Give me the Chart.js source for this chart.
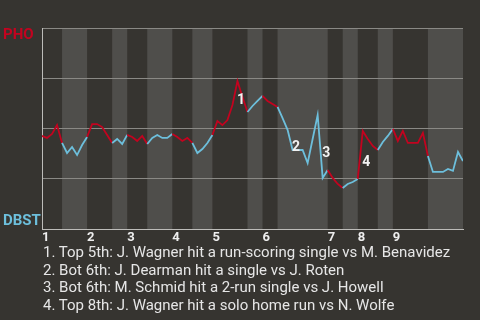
<!DOCTYPE html>
<html>
<head>
<meta charset="utf-8">
<script src="https://cdn.jsdelivr.net/npm/chart.js@4/dist/chart.umd.min.js"></script>
<style>
  html, body { margin: 0; padding: 0; background: #363430; width: 480px; height: 320px; overflow: hidden; }
  #wrap { position: absolute; left: 0; top: 0; width: 480px; height: 245px; }
  #notes { position: absolute; left: 43px; top: 244px; font: 15px Roboto, sans-serif; line-height: 17.7px; color: #e6e6e6; white-space: nowrap; }
</style>
</head>
<body>
<div id="wrap"><canvas id="c"></canvas></div>
<div id="notes"></div>
<script>
// Win probability for PHO after each plate appearance (index 0 = first pitch)
const winProb = [
  0.463, 0.453, 0.473, 0.517, 0.428, 0.378, 0.408, 0.368, 0.418, 0.458,
  0.522, 0.522, 0.507, 0.468, 0.428, 0.448, 0.423, 0.468, 0.458, 0.438,
  0.463, 0.423, 0.453, 0.468, 0.453, 0.453, 0.473, 0.458, 0.438, 0.453,
  0.428, 0.378, 0.398, 0.428, 0.468, 0.537, 0.517, 0.542, 0.617, 0.736,
  0.657, 0.582, 0.612, 0.637, 0.662, 0.637, 0.622, 0.607, 0.552, 0.493,
  0.393, 0.393, 0.393, 0.328, 0.448, 0.567, 0.254, 0.294, 0.254, 0.224,
  0.204, 0.224, 0.234, 0.249, 0.488, 0.448, 0.413, 0.393, 0.433, 0.463,
  0.498, 0.438, 0.488, 0.428, 0.428, 0.428, 0.478, 0.363, 0.284, 0.284,
  0.284, 0.299, 0.289, 0.383, 0.338
];

// Plate-appearance index where each half inning begins / ends (top 1st ... bottom 9th)
const halfBounds = [0, 4, 9, 14, 17, 21, 26, 30, 34, 41, 44, 47, 57, 60, 63, 67, 70, 77, 84];

// Inning numbers shown under the axis
const inningLabels = ['1', '2', '3', '4', '5', '6', '7', '8', '9'];

// Key plays: plate appearance that ends each play, with its description
const eventPlay = [39, 50, 56, 64];
const eventNotes = [
  'Top 5th: J. Wagner hit a run-scoring single vs M. Benavidez',
  'Bot 6th: J. Dearman hit a single vs J. Roten',
  'Bot 6th: M. Schmid hit a 2-run single vs J. Howell',
  'Top 8th: J. Wagner hit a solo home run vs N. Wolfe'
];

const teams = { away: 'PHO', home: 'DBST' };

const RED = '#c3031f';
const BLUE = '#6dbfdc';
const BAND = '#4f4e4b';
const GRID = '#8a8985';
const AXIS = '#bdbcb9';

const inningStarts = halfBounds.filter((_, k) => k % 2 === 0 && k < halfBounds.length - 1);

function halfOf(j) {
  for (let k = 0; k < halfBounds.length - 1; k++) {
    if (j > halfBounds[k] && j <= halfBounds[k + 1]) return k;
  }
  return 0;
}

const bandsPlugin = {
  id: 'bands',
  beforeDraw(chart) {
    const { ctx, chartArea: a, scales: { x } } = chart;
    ctx.save();
    ctx.fillStyle = BAND;
    for (let k = 1; k < halfBounds.length - 1; k += 2) {
      const x0 = x.getPixelForValue(halfBounds[k]);
      const x1 = x.getPixelForValue(halfBounds[k + 1]);
      ctx.fillRect(x0, a.top, x1 - x0, a.bottom - a.top);
    }
    ctx.font = 'bold 15px Roboto, sans-serif';
    ctx.textAlign = 'left';
    ctx.textBaseline = 'alphabetic';
    ctx.fillStyle = RED;
    ctx.fillText(teams.away, 3, 39);
    ctx.fillStyle = BLUE;
    ctx.fillText(teams.home, 3, 225);
    ctx.restore();
  }
};

const eventsPlugin = {
  id: 'events',
  afterDatasetsDraw(chart) {
    const { ctx, scales: { x, y } } = chart;
    ctx.save();
    ctx.font = 'bold 14px Roboto, sans-serif';
    ctx.fillStyle = '#f2f2f2';
    ctx.textAlign = 'center';
    ctx.textBaseline = 'alphabetic';
    eventPlay.forEach((j, n) => {
      const mx = (x.getPixelForValue(j - 1) + x.getPixelForValue(j)) / 2 + 6;
      const my = (y.getPixelForValue(winProb[j - 1]) + y.getPixelForValue(winProb[j])) / 2 + 6;
      ctx.fillText(String(n + 1), mx, my + 5);
    });
    ctx.restore();
  }
};

new Chart(document.getElementById('c'), {
  type: 'line',
  data: {
    datasets: [{
      data: winProb.map((v, i) => ({ x: i, y: v })),
      borderWidth: 1.8,
      pointRadius: 0,
      tension: 0,
      fill: false,
      borderColor: RED,
      segment: {
        borderColor: ctx => (halfOf(ctx.p1DataIndex) % 2 === 0 ? RED : BLUE)
      }
    }]
  },
  options: {
    responsive: true,
    maintainAspectRatio: false,
    animation: false,
    devicePixelRatio: 1,
    layout: { padding: { left: 42, right: 17, top: 28, bottom: 0 } },
    plugins: { legend: { display: false }, tooltip: { enabled: false } },
    scales: {
      x: {
        type: 'linear',
        min: 0,
        max: halfBounds[halfBounds.length - 1],
        afterBuildTicks: s => { s.ticks = inningStarts.map(v => ({ value: v })); },
        afterFit: s => { s.height = 16; },
        grid: { display: false, drawTicks: false },
        border: { display: true, color: AXIS, width: 1 },
        ticks: {
          align: 'start',
          padding: 1,
          autoSkip: false,
          maxRotation: 0,
          color: '#eeeeee',
          font: { family: 'Roboto', weight: 'bold', size: 13 },
          callback: (v, i) => inningLabels[i]
        }
      },
      y: {
        min: 0,
        max: 1,
        afterFit: s => { s.width = 0; },
        ticks: { display: false, stepSize: 0.25 },
        grid: {
          drawTicks: false,
          color: c => (c.tick && c.tick.value === 0 ? 'rgba(0,0,0,0)' : GRID),
          lineWidth: 1
        },
        border: { display: true, color: AXIS, width: 1 }
      }
    }
  },
  plugins: [bandsPlugin, eventsPlugin]
});

const notes = document.getElementById('notes');
eventNotes.forEach((t, n) => {
  const d = document.createElement('div');
  d.textContent = (n + 1) + '. ' + t;
  notes.appendChild(d);
});
</script>
</body>
</html>
